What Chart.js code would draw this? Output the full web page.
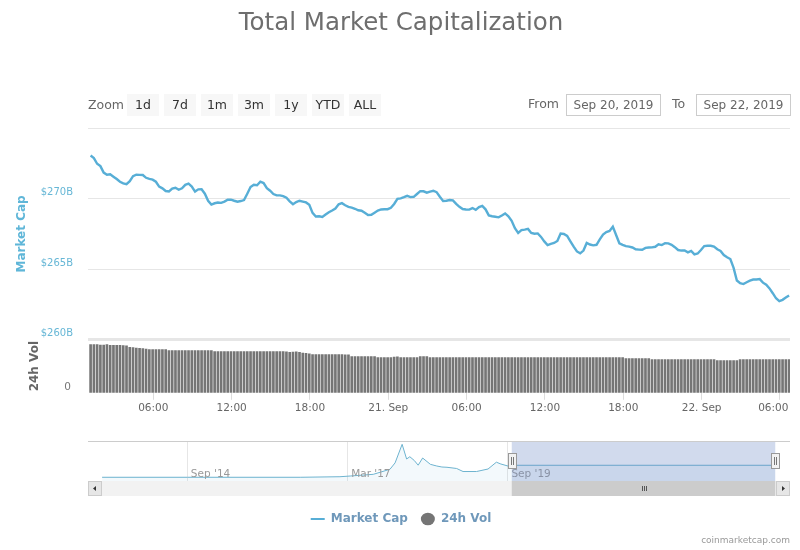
<!DOCTYPE html>
<html>
<head>
<meta charset="utf-8">
<title>Total Market Capitalization</title>
<script src="https://cdn.jsdelivr.net/npm/chart.js@4"></script>
<style>
    body { margin: 0; background: #fff; font-family: "DejaVu Sans", sans-serif; }
    #stage { position: relative; width: 800px; height: 550px; overflow: hidden; }
    canvas { position: absolute; left: 0; }
    #main-chart { top: 0; }
    #nav-chart { top: 430px; }
    .label { position: absolute; font-size: 12.5px; color: #666; line-height: 22px; white-space: nowrap; }
    .range-btn { position: absolute; top: 94px; width: 32px; height: 22px; line-height: 21px; background: #f7f7f7; color: #333; font-size: 12.5px; text-align: center; }
    .date-box { position: absolute; top: 94px; width: 93px; height: 20px; line-height: 20px; border: 1px solid #ccc; color: #666; font-size: 12px; text-align: center; }
    #credit { position: absolute; right: 10px; top: 535px; font-size: 9px; color: #999; }
</style>
</head>
<body>
<div id="stage">
    <canvas id="main-chart" width="790" height="550"></canvas>
    <canvas id="nav-chart" width="800" height="70"></canvas>
    <div class="label" style="left:88px;top:94px">Zoom</div>
    <div class="range-btn" style="left:127px">1d</div>
    <div class="range-btn" style="left:164px">7d</div>
    <div class="range-btn" style="left:201px">1m</div>
    <div class="range-btn" style="left:238px">3m</div>
    <div class="range-btn" style="left:275px">1y</div>
    <div class="range-btn" style="left:312px">YTD</div>
    <div class="range-btn" style="left:349px">ALL</div>
    <div class="label" style="left:528px;top:93px">From</div>
    <div class="date-box" style="left:566px">Sep 20, 2019</div>
    <div class="label" style="left:672px;top:93px">To</div>
    <div class="date-box" style="left:696px">Sep 22, 2019</div>
    <div id="credit">coinmarketcap.com</div>
</div>
<script>
// Market cap in $B, one reading every 15 minutes
const capValues = [
    273.07, 272.89, 272.49, 272.32, 271.86, 271.71, 271.74, 271.57, 271.40, 271.21,
    271.10, 271.04, 271.25, 271.61, 271.71, 271.70, 271.69, 271.49, 271.41, 271.36,
    271.21, 270.86, 270.74, 270.55, 270.52, 270.72, 270.78, 270.64, 270.74, 270.99,
    271.07, 270.87, 270.51, 270.67, 270.68, 270.36, 269.86, 269.59, 269.68, 269.73,
    269.71, 269.80, 269.93, 269.94, 269.86, 269.79, 269.84, 269.91, 270.36, 270.83,
    271.00, 270.96, 271.21, 271.12, 270.76, 270.57, 270.34, 270.24, 270.24, 270.19,
    270.07, 269.82, 269.61, 269.77, 269.86, 269.80, 269.74, 269.57, 269.00, 268.74,
    268.76, 268.71, 268.88, 269.04, 269.17, 269.31, 269.61, 269.69, 269.54, 269.43,
    269.37, 269.29, 269.18, 269.15, 269.00, 268.84, 268.86, 269.01, 269.16, 269.24,
    269.26, 269.26, 269.36, 269.63, 270.00, 270.03, 270.11, 270.21, 270.12, 270.14,
    270.34, 270.54, 270.53, 270.43, 270.51, 270.57, 270.47, 270.14, 269.84, 269.86,
    269.91, 269.89, 269.64, 269.43, 269.27, 269.24, 269.23, 269.34, 269.21, 269.41,
    269.50, 269.25, 268.82, 268.76, 268.72, 268.68, 268.81, 268.96, 268.75, 268.43,
    267.91, 267.57, 267.77, 267.81, 267.86, 267.57, 267.52, 267.54, 267.29, 266.97,
    266.71, 266.80, 266.86, 267.00, 267.53, 267.50, 267.36, 266.98, 266.60, 266.26,
    266.12, 266.32, 266.86, 266.75, 266.69, 266.73, 267.11, 267.46, 267.63, 267.71,
    268.02, 267.43, 266.84, 266.73, 266.63, 266.60, 266.54, 266.41, 266.39, 266.38,
    266.51, 266.54, 266.55, 266.59, 266.77, 266.71, 266.84, 266.83, 266.73, 266.56,
    266.36, 266.32, 266.33, 266.19, 266.30, 266.05, 266.11, 266.36, 266.64, 266.66,
    266.66, 266.60, 266.41, 266.29, 266.00, 265.84, 265.72, 265.09, 264.19, 264.00,
    263.94, 264.07, 264.18, 264.26, 264.26, 264.29, 264.04, 263.89, 263.63, 263.29,
    262.93, 262.73, 262.82, 262.98, 263.13
];

// 24h volume in $B, same readings
const volValues = [
    65.7, 65.7, 65.7, 65.0, 64.8, 65.7, 64.6, 64.6, 64.6, 64.6,
    64.4, 64.0, 62.0, 61.6, 61.0, 60.6, 60.2, 59.5, 58.9, 58.9,
    58.9, 58.9, 58.9, 58.9, 57.5, 57.5, 57.5, 57.5, 57.5, 57.5,
    57.5, 57.5, 57.5, 57.5, 57.5, 57.5, 57.5, 57.5, 56.2, 56.2,
    56.2, 56.2, 56.2, 56.2, 56.2, 56.2, 56.2, 56.2, 56.2, 56.2,
    56.2, 56.2, 56.2, 56.2, 56.2, 56.2, 56.2, 56.2, 56.2, 56.2,
    55.6, 55.2, 55.5, 55.7, 55.0, 54.2, 53.6, 53.0, 52.1, 52.1,
    52.1, 52.1, 52.1, 52.1, 52.1, 52.1, 52.1, 52.1, 51.8, 51.8,
    49.4, 49.4, 49.4, 49.4, 49.4, 49.4, 49.4, 49.4, 48.0, 48.0,
    48.0, 48.0, 48.0, 48.6, 49.0, 48.0, 48.0, 48.0, 48.0, 48.0,
    48.0, 49.4, 49.4, 49.4, 48.0, 48.0, 48.0, 48.0, 48.0, 48.0,
    48.0, 48.0, 48.0, 48.0, 48.0, 48.0, 48.0, 48.0, 48.0, 47.8,
    47.8, 47.8, 47.8, 47.8, 47.8, 47.8, 47.8, 47.8, 47.8, 47.8,
    47.8, 47.8, 47.8, 47.8, 47.8, 47.8, 47.8, 47.8, 47.8, 47.8,
    47.8, 47.8, 47.8, 47.8, 47.8, 47.8, 47.8, 47.8, 47.8, 47.8,
    47.8, 47.8, 47.8, 47.8, 47.8, 47.8, 47.8, 47.8, 47.8, 47.8,
    47.8, 47.8, 47.8, 47.8, 46.6, 46.6, 46.6, 46.6, 46.6, 46.6,
    46.6, 46.6, 45.3, 45.3, 45.3, 45.3, 45.3, 45.3, 45.3, 45.3,
    45.3, 45.3, 45.3, 45.3, 45.3, 45.3, 45.3, 45.3, 45.3, 45.3,
    45.3, 45.3, 44.0, 44.0, 44.0, 44.0, 44.0, 44.0, 44.0, 45.3,
    45.3, 45.3, 45.3, 45.3, 45.3, 45.3, 45.3, 45.3, 45.3, 45.3,
    45.3, 45.3, 45.3, 45.3, 45.3
];

// Hours since 20 Sep 00:00
const sampleHours = capValues.map((_, i) => 1.2 + i * 0.25);
const xTickHours = [6, 12, 18, 24, 30, 36, 42, 48, 54];
const xTickLabels = ['06:00', '12:00', '18:00', '21. Sep', '06:00', '12:00', '18:00', '22. Sep', '06:00'];
const capTicks = [260, 265, 270, 275];
const capTickLabels = ['$260B', '$265B', '$270B', ''];

// Navigator overview, whole history
const navDates = [2013.38, 2014.71, 2016.47, 2017.09, 2017.25, 2017.61, 2017.87, 2017.95, 2018.06, 2018.13,
    2018.18, 2018.25, 2018.31, 2018.38, 2018.50, 2018.60, 2018.68, 2018.76, 2018.91, 2019.01,
    2019.22, 2019.40, 2019.53, 2019.60, 2019.71, 2019.77, 2023.88];
const navValues = [18, 18, 18, 32, 50, 92, 218, 378, 842, 475,
    532, 437, 320, 500, 342, 300, 275, 268, 238, 162,
    162, 225, 395, 350, 300, 318, 318];
const navTickDates = [2014.71, 2017.21, 2019.71];
const navTickLabels = ["Sep '14", "Mar '17", "Sep '19"];
const navRange = [2019.77, 2023.88];

const textGrey = '#666';
const capBlue = '#57aed6';
const volGrey = '#757575';
const legendBlue = '#6f98ba';

function fixWidth(scale) {
    scale.width = 76;
}

new Chart(document.getElementById('main-chart'), {
    type: 'line',
    data: {
        labels: sampleHours,
        datasets: [
            { type: 'line', label: 'Market Cap', data: capValues, yAxisID: 'y', borderColor: capBlue, borderWidth: 2.4, pointRadius: 0, tension: 0 },
            { type: 'bar', label: '24h Vol', data: volValues, yAxisID: 'vol', backgroundColor: volGrey, barThickness: 2 }
        ]
    },
    options: {
        responsive: false,
        animation: false,
        layout: { padding: { left: 12, right: 0, top: 0, bottom: 15 } },
        plugins: {
            tooltip: { enabled: false },
            title: {
                display: true,
                text: 'Total Market Capitalization',
                color: '#6e6e6e',
                font: { family: 'DejaVu Sans', size: 24.5, weight: 'normal' },
                padding: { top: 9, bottom: 90 }
            },
            legend: {
                position: 'bottom',
                labels: {
                    usePointStyle: true,
                    pointStyleWidth: 14,
                    boxHeight: 9,
                    padding: 13,
                    color: legendBlue,
                    font: { family: 'DejaVu Sans', size: 12, weight: 'bold' },
                    generateLabels: () => [
                        { text: 'Market Cap', pointStyle: 'line', strokeStyle: capBlue, lineWidth: 2, fontColor: legendBlue, datasetIndex: 0 },
                        { text: '24h Vol', pointStyle: 'circle', fillStyle: volGrey, strokeStyle: volGrey, lineWidth: 0, fontColor: legendBlue, datasetIndex: 1 }
                    ]
                }
            }
        },
        scales: {
            x: {
                type: 'linear',
                min: 1,
                max: 54.77,
                offset: false,
                afterBuildTicks: scale => { scale.ticks = xTickHours.map(value => ({ value })); },
                afterFit: scale => {
                    scale.height = 107.2;
                    scale.paddingLeft = 0;
                    scale.paddingRight = 0;
                },
                grid: { offset: false, drawOnChartArea: false, tickLength: 7, tickColor: '#ddd' },
                border: { display: false },
                ticks: {
                    autoSkip: false,
                    maxRotation: 0,
                    padding: 2,
                    color: textGrey,
                    font: { family: 'DejaVu Sans', size: 10.5 },
                    // last label is pushed left so it stays inside the plot
                    callback: (value, i) => i === xTickLabels.length - 1 ? xTickLabels[i] + '\u00a0\u00a0\u00a0\u00a0' : xTickLabels[i]
                }
            },
            y: {
                stack: 'panes',
                stackWeight: 210,
                weight: 1,
                min: 260,
                max: 275,
                afterBuildTicks: scale => { scale.ticks = capTicks.map(value => ({ value })); },
                afterFit: fixWidth,
                grid: {
                    drawTicks: false,
                    color: '#e6e6e6',
                    lineWidth: ctx => ctx.tick && ctx.tick.value === 260 ? 3 : 1
                },
                border: { display: false },
                title: { display: true, text: 'Market Cap', color: '#5fb6d8', font: { family: 'DejaVu Sans', size: 12, weight: 'bold' }, padding: { top: 3, bottom: 0 } },
                ticks: {
                    padding: 15,
                    labelOffset: -6,
                    color: '#67b7d6',
                    font: { family: 'DejaVu Sans', size: 10 },
                    callback: (value, i) => capTickLabels[i]
                }
            },
            vol: {
                stack: 'panes',
                stackWeight: 53,
                weight: 0,
                min: 0,
                max: 72.5,
                afterBuildTicks: scale => { scale.ticks = [{ value: 0 }]; },
                afterFit: fixWidth,
                grid: { display: false, drawTicks: false },
                border: { display: false },
                title: { display: true, text: '24h Vol', color: textGrey, font: { family: 'DejaVu Sans', size: 12, weight: 'bold' }, padding: { top: 16, bottom: 0 } },
                ticks: {
                    padding: 17,
                    labelOffset: -6,
                    color: '#777',
                    font: { family: 'DejaVu Sans', size: 10.5 }
                }
            }
        }
    }
});

// Range mask, handles, scrollbar and date labels of the navigator
const navigatorChrome = {
    id: 'navigatorChrome',
    afterDatasetsDraw(chart) {
        const { ctx, chartArea: area, scales } = chart;
        const fromX = scales.x.getPixelForValue(navRange[0]);
        const toX = scales.x.getPixelForValue(navRange[1]);
        const trackH = 15;
        ctx.save();
        ctx.fillStyle = '#999';
        ctx.font = '10.5px "DejaVu Sans"';
        ctx.textBaseline = 'middle';
        navTickLabels.forEach((label, i) => {
            ctx.fillText(label, scales.x.getPixelForValue(navTickDates[i]) + 3.5, area.bottom - 7);
        });

        ctx.fillStyle = 'rgba(102,133,194,0.3)';
        ctx.fillRect(fromX, area.top, toX - fromX, area.bottom - area.top);
        ctx.strokeStyle = '#ccc';
        ctx.lineWidth = 1;
        ctx.beginPath();
        ctx.moveTo(area.left, area.top + 0.5);
        ctx.lineTo(area.right, area.top + 0.5);
        ctx.stroke();

        ctx.fillStyle = '#f2f2f2';
        ctx.fillRect(area.left, area.bottom, area.right - area.left, trackH);
        ctx.fillStyle = '#ccc';
        ctx.fillRect(fromX, area.bottom, toX - fromX, trackH);
        ctx.strokeStyle = '#555';
        const midX = Math.round((fromX + toX) / 2);
        for (const dx of [-2, 0, 2]) {
            ctx.beginPath();
            ctx.moveTo(midX + dx + 0.5, area.bottom + 5);
            ctx.lineTo(midX + dx + 0.5, area.bottom + 10);
            ctx.stroke();
        }
        for (const [bx, dir] of [[area.left, -1], [area.right - 14, 1]]) {
            ctx.fillStyle = '#e6e6e6';
            ctx.strokeStyle = '#ccc';
            ctx.fillRect(bx, area.bottom, 14, trackH);
            ctx.strokeRect(bx + 0.5, area.bottom + 0.5, 13, trackH - 1);
            ctx.fillStyle = '#333';
            ctx.beginPath();
            ctx.moveTo(bx + 7 + dir * 2, area.bottom + 7.5);
            ctx.lineTo(bx + 7 - dir, area.bottom + 5);
            ctx.lineTo(bx + 7 - dir, area.bottom + 10);
            ctx.fill();
        }
        for (const hx of [fromX, toX]) {
            const left = Math.round(hx) - 4;
            ctx.fillStyle = '#f2f2f2';
            ctx.strokeStyle = '#999';
            ctx.fillRect(left, area.top + 12, 8, 15);
            ctx.strokeRect(left + 0.5, area.top + 12.5, 8, 15);
            ctx.strokeStyle = '#777';
            for (const dx of [3, 5]) {
                ctx.beginPath();
                ctx.moveTo(left + dx + 0.5, area.top + 16);
                ctx.lineTo(left + dx + 0.5, area.top + 24);
                ctx.stroke();
            }
        }
        ctx.restore();
    }
};

new Chart(document.getElementById('nav-chart'), {
    type: 'line',
    data: {
        labels: navDates,
        datasets: [
            { data: navValues, borderColor: '#6db3cf', borderWidth: 1, backgroundColor: 'rgba(90,175,215,0.07)', fill: 'start', pointRadius: 0, tension: 0 }
        ]
    },
    plugins: [navigatorChrome],
    options: {
        responsive: false,
        animation: false,
        layout: { padding: { left: 88, right: 10, top: 11, bottom: 19 } },
        plugins: { legend: { display: false }, tooltip: { enabled: false }, title: { display: false } },
        scales: {
            x: {
                type: 'linear',
                min: 2013.16,
                max: 2024.11,
                afterBuildTicks: scale => { scale.ticks = navTickDates.map(value => ({ value })); },
                afterFit: scale => { scale.height = 0; },
                grid: { drawTicks: false, color: '#e6e6e6' },
                border: { display: false },
                ticks: { display: false }
            },
            y: { display: false, min: -75, max: 925 }
        }
    }
});
</script>
</body>
</html>
